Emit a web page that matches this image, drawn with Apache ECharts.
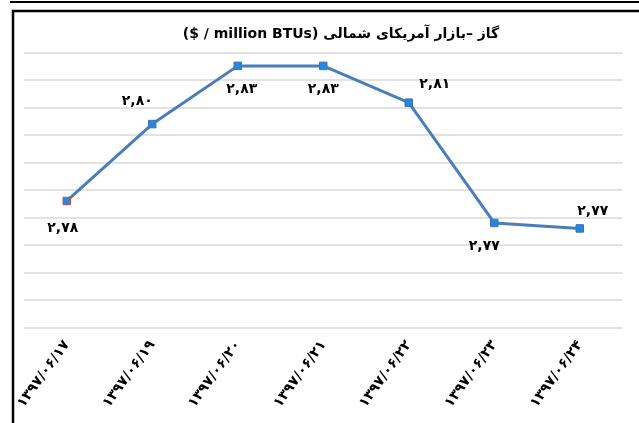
<!DOCTYPE html>
<html>
<head>
<meta charset="utf-8">
<script src="https://cdn.jsdelivr.net/npm/echarts@6/dist/echarts.min.js"></script>
<style>html,body{margin:0;padding:0;background:#fff}#c{width:639px;height:423px}</style>
</head>
<body>
<div id="c"></div>
<script>
const categories = ['۱۳۹۷/۰۶/۱۷','۱۳۹۷/۰۶/۱۹','۱۳۹۷/۰۶/۲۰','۱۳۹۷/۰۶/۲۱','۱۳۹۷/۰۶/۲۲','۱۳۹۷/۰۶/۲۳','۱۳۹۷/۰۶/۲۴'];
const prices = [2.776, 2.804, 2.8252, 2.8252, 2.8118, 2.768, 2.766];
const labelSide = ['bottom','top','bottom','bottom','top','bottom','top'];
const titleText = 'گاز –بازار آمریکای شمالی';
const unitText = '($ / million BTUs)';
const yMin = 2.73, yMax = 2.83, yStep = 0.01;

const labelOffsets = [[-4,4],[-15,1],[4,0],[0,0],[26,5],[-10,0],[13,6]];
const fa = s => s.replace(/[0-9]/g, d => '۰۱۲۳۴۵۶۷۸۹'[+d]).replace('.', ',');

const font = 'DejaVu Sans';
const chart = echarts.init(document.getElementById('c'), null, {renderer:'canvas'});
chart.setOption({
  animation:false,
  backgroundColor:'#fff',
  title:{
    text: unitText + ' ' + titleText,
    left: 336, top: 22, textAlign:'center',
    textStyle:{fontFamily:font, fontWeight:'bold', fontSize:14, color:'#000'}
  },
  grid:{left:24, right:16.5, top:52.7, bottom:95.7, containLabel:false},
  xAxis:{
    type:'category', data:categories, boundaryGap:true,
    axisLine:{show:false}, axisTick:{show:false},
    axisLabel:{rotate:54, margin:15, interval:0, fontFamily:font, fontWeight:'bold', fontSize:14, color:'#000'}
  },
  yAxis:{
    type:'value', min:yMin, max:yMax, interval:yStep,
    axisLabel:{show:false}, axisLine:{show:false}, axisTick:{show:false},
    splitLine:{lineStyle:{color:'#d9d9d9', width:1.5}}
  },
  series:[{
    type:'line',
    data: prices.map((v,i)=>({
      value:v,
      itemStyle: i===0 ? {borderColor:'#c0504d'} : undefined,
      label:{position:labelSide[i], offset:labelOffsets[i]}
    })),
    symbol:'rect', symbolSize:7.5,
    lineStyle:{color:'#4a7ebb', width:3},
    itemStyle:{color:'#2a86dc', borderColor:'#3d72b4', borderWidth:1},
    label:{show:true, distance:12, fontFamily:font, fontWeight:'bold', fontSize:14, color:'#000',
      formatter:p=>fa(p.value.toFixed(2))}
  }],
  graphic:[
    {type:'line', shape:{x1:10,y1:2,x2:639,y2:2}, style:{stroke:'#000', lineWidth:2}},
    {type:'rect', shape:{x:13,y:11,width:640,height:420}, style:{fill:null, stroke:'#000', lineWidth:2.5}}
  ]
});
</script>
</body>
</html>
